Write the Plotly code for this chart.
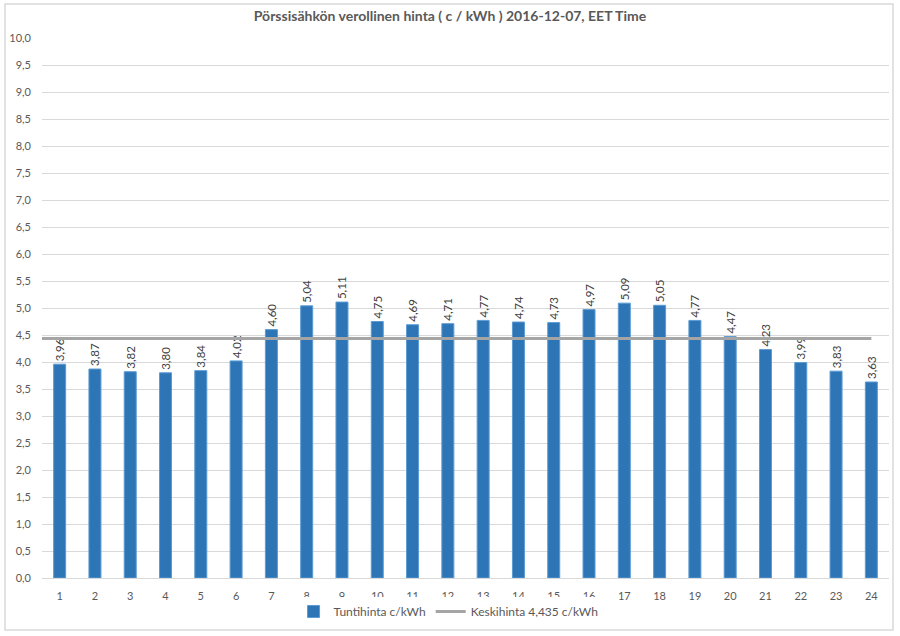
import plotly.graph_objects as go

hours = list(range(1, 25))
prices = [3.96, 3.87, 3.82, 3.80, 3.84, 4.02, 4.60, 5.04, 5.11, 4.75, 4.69, 4.71,
          4.77, 4.74, 4.73, 4.97, 5.09, 5.05, 4.77, 4.47, 4.23, 3.99, 3.83, 3.63]
avg_price = 4.435
y_ticks = [i * 0.5 for i in range(21)]
title = "Pörssisähkön verollinen hinta ( c / kWh ) 2016-12-07, EET Time"
bar_name = "Tuntihinta c/kWh"
line_name = "Keskihinta 4,435 c/kWh"

x_range = [0.5, 24.5]
FONT = "Lato"

fig = go.Figure()
fig.add_trace(go.Bar(
    x=hours, y=prices, name=bar_name,
    marker=dict(color="#2E75B6", line=dict(color="#5B9BD5", width=1)),
    texttemplate="%{y:.2f}", textposition="outside", textangle=-90,
    constraintext="none",
    textfont=dict(family=FONT, size=11.5, color="#404040"),
    cliponaxis=False,
))
line_x = [x_range[0]] + hours
fig.add_trace(go.Scatter(
    x=line_x, y=[avg_price] * len(line_x), name=line_name, mode="lines",
    line=dict(color="#A5A5A5", width=3),
))

fig.add_shape(type="rect", xref="paper", yref="paper",
              x0=-0.0437, x1=1.0047, y0=-0.0963, y1=1.063,
              line=dict(color="#D9D9D9", width=1.5), layer="below")

fig.update_layout(
    width=900, height=636,
    margin=dict(l=42, r=11, t=38, b=58, autoexpand=False),
    paper_bgcolor="white", plot_bgcolor="white",
    separators=", ",
    bargap=0.66,
    title=dict(text=title, x=0.5, xanchor="center", xref="container",
               y=1 - 16 / 636, yanchor="middle", yref="container",
               font=dict(family=FONT, size=14, color="#595959", weight="bold")),
    font=dict(family=FONT, size=11, color="#595959"),
    showlegend=True,
    legend=dict(orientation="h", x=0.48, xanchor="center", y=-0.062, yanchor="middle",
                font=dict(family=FONT, size=12, color="#595959"),
                itemwidth=30, traceorder="normal"),
)
fig.update_xaxes(range=x_range, tickmode="array", tickvals=hours,
                 ticktext=[str(h) for h in hours], showgrid=False,
                 showline=True, linecolor="#D9D9D9", linewidth=1,
                 ticks="", tickfont=dict(family=FONT, size=11, color="#595959"),
                 ticklabelstandoff=8)
fig.update_yaxes(range=[0, 10], tickmode="array", tickvals=y_ticks, tickformat=".1f",
                 showgrid=True, gridcolor="#D9D9D9", gridwidth=1,
                 zeroline=False, showline=False, ticks="",
                 tickfont=dict(family=FONT, size=11, color="#595959"),
                 ticklabelstandoff=10)

fig.write_html("out.html", config={"displayModeBar": False},
               post_script="document.body.style.margin='0';")
